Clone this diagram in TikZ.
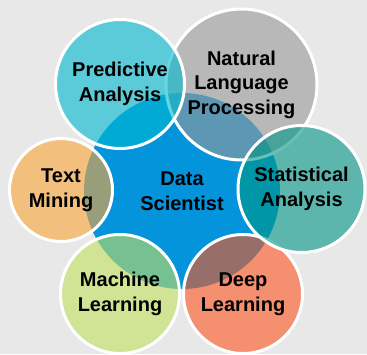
\documentclass[tikz,border=0pt]{standalone}
\usepackage{fontspec}
\setmainfont{Liberation Sans}
\usetikzlibrary{calc}

\definecolor{bggrey}{RGB}{232,232,232}
\definecolor{coreblue}{RGB}{4,148,220}
\definecolor{predcol}{RGB}{0,185,207}
\definecolor{nlpcol}{RGB}{153,153,153}
\definecolor{statcol}{RGB}{0,150,134}
\definecolor{textcol}{RGB}{250,165,55}
\definecolor{machcol}{RGB}{195,224,92}
\definecolor{deepcol}{RGB}{252,85,32}

\begin{document}
\begin{tikzpicture}[x=1pt, y=-1pt,
    bubble/.style={circle, draw=white, line width=3pt, fill opacity=0.6,
      text opacity=1, inner sep=0pt, align=center,
      font=\fontsize{20}{24.5}\selectfont\bfseries}]
    \fill[bggrey] (0,0) rectangle (367,354);
    \useasboundingbox (0,0) rectangle (367,354);

    \node[circle, fill=coreblue, inner sep=0pt, minimum size=196pt, align=center,
      font=\fontsize{20}{24.5}\selectfont\bfseries] (core) at (182,191) {Data\\Scientist};

    \node[bubble, fill=nlpcol, minimum size=151pt] (nlp) at (241.5,84.5) {Natural\\Language\\Processing};
    \node[bubble, fill=predcol, minimum size=129pt] (pred) at (120,84) {Predictive\\Analysis};
    \node[bubble, fill=textcol, minimum size=103pt] (text) at (61,190) {Text\\Mining};
    \node[bubble, fill=machcol, minimum size=119pt] (mach) at (120,294) {Machine\\Learning};
    \node[bubble, fill=deepcol, minimum size=119pt] (deep) at (243,294) {Deep\\Learning};
    \node[bubble, fill=statcol, minimum size=127pt] (stat) at (301.5,189) {Statistical\\Analysis};
\end{tikzpicture}
\end{document}
